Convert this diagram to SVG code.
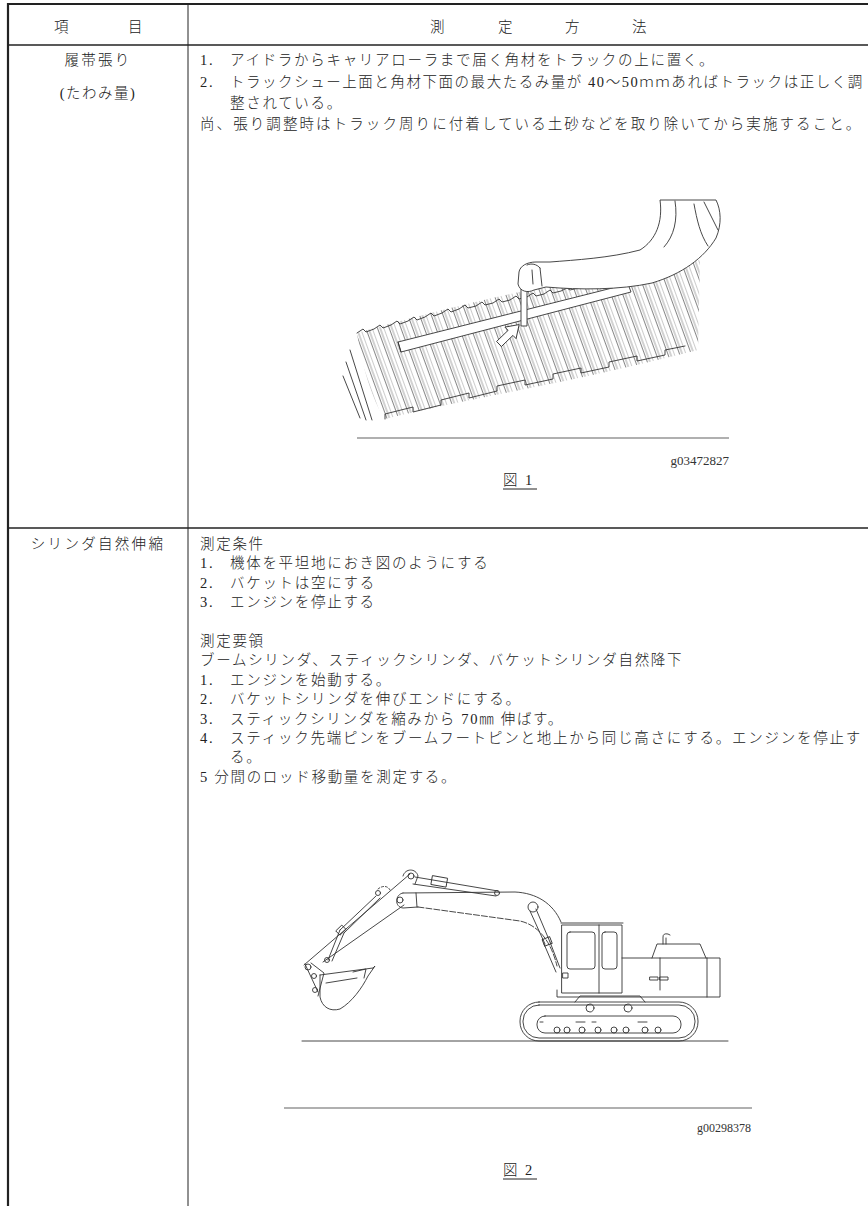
<svg xmlns="http://www.w3.org/2000/svg" width="868" height="1206" viewBox="0 0 868 1206">
<style>
.t{font-family:"Liberation Serif","Noto Sans CJK JP",serif;font-size:14.5px;font-weight:300;fill:#222;letter-spacing:1.7px}
.c{text-anchor:middle;letter-spacing:2.3px}
.g{font-family:"Liberation Serif",serif;fill:#333}
.rule{stroke:#222;fill:none}
.ln{stroke:#333;stroke-width:0.9;fill:none;stroke-linecap:round;stroke-linejoin:round}
.lw{stroke:#333;stroke-width:0.9;fill:#fff;stroke-linejoin:round}
.gray{stroke:#b0b0b0;stroke-width:2.2}
</style>
<defs>
<pattern id="hatch" width="11" height="10" patternUnits="userSpaceOnUse" patternTransform="rotate(-20)">
<line x1="0.5" y1="0" x2="0.5" y2="10" stroke="#555" stroke-width="0.7"/>
<line x1="3" y1="0" x2="3" y2="10" stroke="#666" stroke-width="0.6"/>
<line x1="6.5" y1="0" x2="6.5" y2="10" stroke="#999" stroke-width="0.5"/>
</pattern>
</defs>
<rect width="868" height="1206" fill="#fff"/>

<g id="table">
<line class="rule" x1="7" y1="4" x2="868" y2="4" stroke-width="2.2"/>
<line class="rule" x1="8" y1="3" x2="8" y2="1206" stroke-width="2.2"/>
<line class="rule" x1="188" y1="4" x2="188" y2="1206" stroke-width="1"/>
<line class="rule" x1="8" y1="45" x2="868" y2="45" stroke-width="1.3"/>
<line class="rule" x1="8" y1="528" x2="868" y2="528" stroke-width="1.3"/>
</g>

<g id="header">
<text class="t" x="54" y="32">項</text>
<text class="t" x="128" y="32">目</text>
<text class="t" x="430" y="32">測</text>
<text class="t" x="498" y="32">定</text>
<text class="t" x="565" y="32">方</text>
<text class="t" x="632" y="32">法</text>
</g>

<g id="row1">
<text class="t c" x="98" y="65">履帯張り</text>
<text class="t c" x="98" y="98" style="letter-spacing:1.5px">(たわみ量)</text>
<text class="t" x="200" y="65">1.</text>
<text class="t" x="230" y="65">アイドラからキャリアローラまで届く角材をトラックの上に置く。</text>
<text class="t" x="200" y="87">2.</text>
<text class="t" x="230" y="87" textLength="634" lengthAdjust="spacing">トラックシュー上面と角材下面の最大たるみ量が 40〜50ｍｍあればトラックは正しく調</text>
<text class="t" x="230" y="108">整されている。</text>
<text class="t" x="200" y="129" textLength="662" lengthAdjust="spacing">尚、張り調整時はトラック周りに付着している土砂などを取り除いてから実施すること。</text>
</g>

<g id="fig1">
<path d="M357,333 C430,312 520,290 600,276 C640,269 672,264 700,260 L698,350 C650,362 600,374 540,386 C480,398 430,408 385,419 C372,400 362,366 357,333 Z" fill="url(#hatch)" stroke="none"/>
<path class="ln" d="M357,333 l6,-4 l3,3 l8,-3 l6,-4 l3,3 l8,-3 l6,-4 l3,3 l8,-3 l6,-4 l3,3 l8,-3 l6,-4 l3,3 l8,-3 l6,-4 l3,3 l8,-3 l6,-4 l3,3 l8,-2 l6,-4 l3,3 l8,-2 l6,-4 l3,3 l8,-2 l6,-4 l3,3 l8,-2 l6,-4 l3,3 l8,-2 l6,-4 l3,3 l8,-2 l6,-3 l3,2 l8,-2 l6,-3 l3,2 l8,-2 l6,-3 l3,2 l8,-2 l6,-3 l3,2 l8,-2 l6,-3 l3,2 l8,-2 l6,-3 l3,2 l8,-2"/>
<path class="ln" d="M385,419 l0,-5 l28,-7 l0,5 l28,-7 l0,-5 l28,-7 l0,5 l28,-7 l0,-5 l28,-6 l0,5 l28,-6 l0,-5 l28,-6 l0,5 l28,-6 l0,-5 l28,-6 l0,5 l28,-6 l0,-5 l20,-4"/>
<path class="ln" d="M350,350 L372,420 M346,362 L366,420 M343,376 L360,418"/>
<path class="lw" d="M398,342 L628,284 L631,292 L401,352 Z"/>
<path class="ln" d="M398,342 L401,352"/>
<rect class="lw" x="521" y="268" width="6" height="58"/>
<path class="lw" d="M660,200 C663,222 656,240 640,250 C610,258 575,260 550,262 L536,262 C527,262 520,266 519,272 L518,284 C520,292 528,293 534,290 L546,287 C580,290 620,290 652,283 C682,274 704,258 716,238 C722,224 721,210 716,200 Z"/>
<path class="ln" d="M675,201 C678,220 674,236 664,247 M694,204 C697,220 700,234 708,246 M704,202 L718,230 M527,265 C531,263 537,264 540,268 M540,268 L542,286 M532,270 L533,284"/>
<path class="lw" transform="translate(499,344) rotate(-44)" d="M0,-3.5 L16,-3.5 L16,-8 L28,0 L16,8 L16,3.5 L0,3.5 Z"/>
<line class="gray" x1="357" y1="438" x2="729" y2="438"/>
<text class="g" x="729" y="465" font-size="13" text-anchor="end">g03472827</text>
<text class="t" y="485" style="letter-spacing:0"><tspan x="503">図</tspan><tspan x="525">1</tspan></text>
<line x1="503" y1="489" x2="537" y2="489" stroke="#222" stroke-width="1"/>
</g>

<g id="row2">
<text class="t c" x="98" y="549">シリンダ自然伸縮</text>
<text class="t" x="200" y="549">測定条件</text>
<text class="t" x="200" y="568">1.</text>
<text class="t" x="230" y="568">機体を平坦地におき図のようにする</text>
<text class="t" x="200" y="588">2.</text>
<text class="t" x="230" y="588">バケットは空にする</text>
<text class="t" x="200" y="607">3.</text>
<text class="t" x="230" y="607">エンジンを停止する</text>
<text class="t" x="200" y="646">測定要領</text>
<text class="t" x="200" y="665">ブームシリンダ、スティックシリンダ、バケットシリンダ自然降下</text>
<text class="t" x="200" y="685">1.</text>
<text class="t" x="230" y="685">エンジンを始動する。</text>
<text class="t" x="200" y="704">2.</text>
<text class="t" x="230" y="704">バケットシリンダを伸びエンドにする。</text>
<text class="t" x="200" y="724">3.</text>
<text class="t" x="230" y="724">スティックシリンダを縮みから 70㎜ 伸ばす。</text>
<text class="t" x="200" y="743">4.</text>
<text class="t" x="230" y="743" textLength="632" lengthAdjust="spacing">スティック先端ピンをブームフートピンと地上から同じ高さにする。エンジンを停止す</text>
<text class="t" x="230" y="762">る。</text>
<text class="t" x="200" y="782">5 分間のロッド移動量を測定する。</text>
</g>

<g id="fig2">
<line class="ln" x1="302" y1="1041" x2="728" y2="1041" stroke-width="1.1"/>
<rect class="ln" x="520" y="1002" width="178" height="39" rx="19"/>
<rect class="ln" x="523" y="1005" width="172" height="33" rx="16"/>
<rect class="ln" x="537" y="1016" width="144" height="17" rx="8"/>
<g class="ln">
<circle cx="557" cy="1030" r="3"/><circle cx="567" cy="1030" r="3"/><circle cx="582" cy="1030" r="3"/><circle cx="598" cy="1030" r="3"/>
<circle cx="614" cy="1030" r="3"/><circle cx="626" cy="1030" r="3"/><circle cx="645" cy="1030" r="3"/><circle cx="658" cy="1030" r="3"/>
<circle cx="590" cy="1008" r="4"/><circle cx="628" cy="1008" r="4"/>
<path d="M540,1022 h3 M576,1022 h9 M592,1022 h4 M638,1022 h9"/>
<path d="M575,1002 L580,996 L640,996 L645,1002"/>
</g>
<path class="ln" d="M557,990 L557,997 L720,997 L720,958 L622,958"/>
<rect class="ln" x="562" y="925" width="60" height="68"/>
<path class="ln" d="M561,923 L623,923"/>
<path class="ln" d="M599,925 L599,993"/>
<rect class="ln" x="567" y="932" width="28" height="37" rx="3"/>
<rect class="ln" x="602" y="932" width="15" height="37" rx="3"/>
<rect class="ln" x="563" y="973" width="5" height="5"/>
<path class="ln" d="M650,977 h8 v3 h-8 z M660,977 h8 v3 h-8 z M660,958 L660,990 M707,958 L707,997"/>
<path class="ln" d="M652,958 L657,944 L700,944 L706,958"/>
<path class="ln" d="M663,944 L663,937 Q663,933 668,934 L670,935 M666,944 L666,938"/>
<path class="ln" d="M403,893 L515,892 C536,893 553,903 561,922"/>
<path class="ln" d="M418,907 L520,921 C538,925 551,941 557,966" stroke-dasharray="6,2"/>
<path class="ln" d="M403,893 C395,894 394,907 403,908 L418,907 M416,893 L417,907"/>
<circle class="ln" cx="400" cy="900" r="3"/>
<circle class="ln" cx="533" cy="907" r="5"/>
<path class="ln" d="M530,911 L545,944 M536,909 L550,942 M544,944 L556,972 M550,942 L560,968"/>
<rect class="ln" x="543" y="938" width="8" height="7" transform="rotate(-22 547 941)"/>
<path class="ln" d="M410,874 L304,965 M404,905 L323,962"/>
<path class="ln" d="M403,876 C405,868 416,868 418,876 L415,884"/>
<circle class="ln" cx="411" cy="876" r="3"/>
<path class="ln" d="M415,877 L498,891 M413,884 L496,896"/>
<rect class="ln" x="432" y="877" width="15" height="9" transform="rotate(10 440 881)"/>
<circle class="ln" cx="497" cy="893" r="2.5"/>
<path class="ln" d="M378,889 C383,885 388,886 390,890" stroke-dasharray="2,2"/>
<circle class="ln" cx="378" cy="893" r="2.5"/>
<path class="ln" d="M376,896 L340,930 M380,898 L344,933 M340,930 L328,960 M344,933 L332,961"/>
<rect class="ln" x="337" y="927" width="8" height="6" transform="rotate(-44 341 930)"/>
<circle class="ln" cx="327" cy="960" r="2.5"/>
<circle class="ln" cx="308" cy="967" r="3"/>
<circle class="ln" cx="314" cy="976" r="2.5"/>
<circle class="ln" cx="315" cy="990" r="2.5"/>
<path class="ln" d="M305,964 L318,992 M311,963 L324,973 L318,996"/>
<path class="ln" d="M320,975 L373,968 M320,975 L320,997 C322,1007 330,1012 340,1009 C352,1002 362,988 368,976 L375,966 L373,968"/>
<path class="ln" d="M326,983 L357,978 M353,972 L366,969 L364,978"/>
<line class="gray" x1="284" y1="1108" x2="752" y2="1108"/>
<text class="g" x="751" y="1132" font-size="12" text-anchor="end" textLength="54" lengthAdjust="spacingAndGlyphs">g00298378</text>
<text class="t" y="1175" style="letter-spacing:0"><tspan x="503">図</tspan><tspan x="525">2</tspan></text>
<line x1="503" y1="1179" x2="537" y2="1179" stroke="#222" stroke-width="1"/>
</g>
</svg>
